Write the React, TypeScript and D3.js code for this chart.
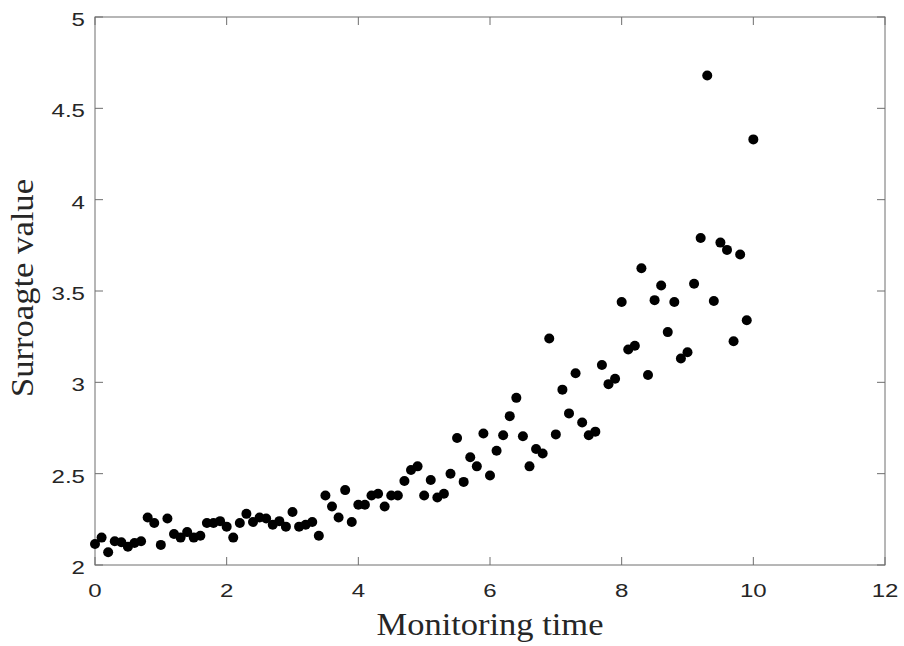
import React from "react";
import * as d3 from "d3";

const xValues: number[] = [
  0, 0.1, 0.2, 0.3, 0.4, 0.5, 0.6, 0.7, 0.8, 0.9,
  1.0, 1.1, 1.2, 1.3, 1.4, 1.5, 1.6, 1.7, 1.8, 1.9,
  2.0, 2.1, 2.2, 2.3, 2.4, 2.5, 2.6, 2.7, 2.8, 2.9,
  3.0, 3.1, 3.2, 3.3, 3.4, 3.5, 3.6, 3.7, 3.8, 3.9,
  4.0, 4.1, 4.2, 4.3, 4.4, 4.5, 4.6, 4.7, 4.8, 4.9,
  5.0, 5.1, 5.2, 5.3, 5.4, 5.5, 5.6, 5.7, 5.8, 5.9,
  6.0, 6.1, 6.2, 6.3, 6.4, 6.5, 6.6, 6.7, 6.8, 6.9,
  7.0, 7.1, 7.2, 7.3, 7.4, 7.5, 7.6, 7.7, 7.8, 7.9,
  8.0, 8.1, 8.2, 8.3, 8.4, 8.5, 8.6, 8.7, 8.8, 8.9,
  9.0, 9.1, 9.2, 9.3, 9.4, 9.5, 9.6, 9.7, 9.8, 9.9,
  10.0,
];

const surrogateValues: number[] = [
  2.115, 2.15, 2.07, 2.13, 2.125, 2.1, 2.12, 2.13, 2.26, 2.23,
  2.11, 2.255, 2.17, 2.15, 2.18, 2.15, 2.16, 2.23, 2.23, 2.24,
  2.21, 2.15, 2.23, 2.28, 2.235, 2.26, 2.255, 2.22, 2.24, 2.21,
  2.29, 2.21, 2.22, 2.235, 2.16, 2.38, 2.32, 2.26, 2.41, 2.235,
  2.33, 2.33, 2.38, 2.39, 2.32, 2.38, 2.38, 2.46, 2.52, 2.54,
  2.38, 2.465, 2.37, 2.39, 2.5, 2.695, 2.455, 2.59, 2.54, 2.72,
  2.49, 2.625, 2.71, 2.815, 2.915, 2.705, 2.54, 2.635, 2.61, 3.24,
  2.715, 2.96, 2.83, 3.05, 2.78, 2.71, 2.73, 3.095, 2.99, 3.02,
  3.44, 3.18, 3.2, 3.625, 3.04, 3.45, 3.53, 3.275, 3.44, 3.13,
  3.165, 3.54, 3.79, 4.68, 3.445, 3.765, 3.725, 3.225, 3.7, 3.34,
  4.33,
];

const xTicks: number[] = [0, 2, 4, 6, 8, 10, 12];
const yTicks: number[] = [2, 2.5, 3, 3.5, 4, 4.5, 5];
const xLabel = "Monitoring time";
const yLabel = "Surroagte value";

export default function App() {
  const W = 904;
  const H = 646;
  const left = 95;
  const right = 885;
  const top = 17;
  const bottom = 565;
  const x = d3.scaleLinear().domain([0, 12]).range([left, right]);
  const y = d3.scaleLinear().domain([2, 5]).range([bottom, top]);
  const axisColor = "#6e6e6e";
  const tickLen = 8;
  const tickFont = "'Liberation Sans', Arial, sans-serif";
  const labelFont = "'Liberation Serif', 'Times New Roman', serif";
  const fmt = d3.format("~g");

  return (
    <svg
      width={W}
      height={H}
      style={{ position: "absolute", left: 0, top: 0, background: "#fff" }}
    >
      <rect x={0} y={0} width={W} height={H} fill="#fff" />
      {xTicks.map((t) => (
        <g key={"xt" + t}>
          <line x1={x(t)} x2={x(t)} y1={bottom} y2={bottom - tickLen} stroke={axisColor} />
          <line x1={x(t)} x2={x(t)} y1={top} y2={top + tickLen} stroke={axisColor} />
          <text
            transform={`translate(${x(t)},${bottom + 32}) scale(1.3,1)`}
            textAnchor="middle"
            fontFamily={tickFont}
            fontSize={18.5}
            fill="#262626"
          >
            {fmt(t)}
          </text>
        </g>
      ))}
      {yTicks.map((t) => (
        <g key={"yt" + t}>
          <line x1={left} x2={left + tickLen} y1={y(t)} y2={y(t)} stroke={axisColor} />
          <line x1={right} x2={right - tickLen} y1={y(t)} y2={y(t)} stroke={axisColor} />
          <text
            transform={`translate(${left - 10},${y(t) + 9}) scale(1.3,1)`}
            textAnchor="end"
            fontFamily={tickFont}
            fontSize={18.5}
            fill="#262626"
          >
            {fmt(t)}
          </text>
        </g>
      ))}
      <rect
        x={left}
        y={top}
        width={right - left}
        height={bottom - top}
        fill="none"
        stroke={axisColor}
      />
      {xValues.map((xv, i) => (
        <circle key={i} cx={x(xv)} cy={y(surrogateValues[i])} r={5} fill="#000" />
      ))}
      <text
        x={(left + right) / 2}
        y={635}
        textAnchor="middle"
        fontFamily={labelFont}
        fontSize={32}
        textLength={227}
        lengthAdjust="spacingAndGlyphs"
        fill="#262626"
      >
        {xLabel}
      </text>
      <text
        transform={`translate(${33},${288}) rotate(-90)`}
        textAnchor="middle"
        fontFamily={labelFont}
        fontSize={31}
        textLength={218}
        lengthAdjust="spacingAndGlyphs"
        fill="#262626"
      >
        {yLabel}
      </text>
    </svg>
  );
}
